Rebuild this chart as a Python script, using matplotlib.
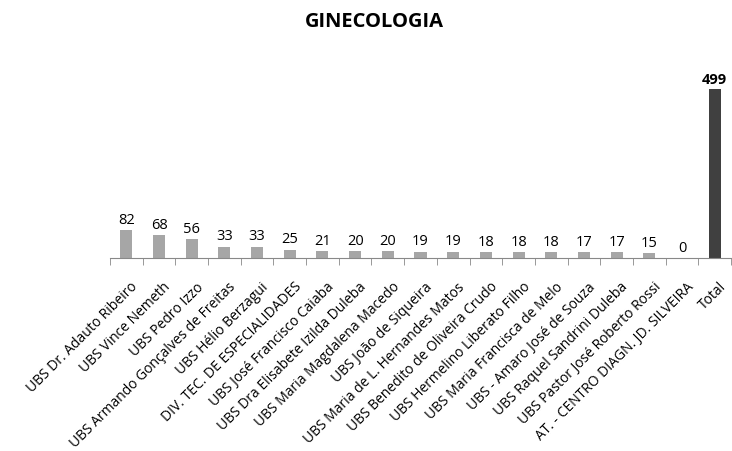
import matplotlib.pyplot as plt
import matplotlib.transforms as mtransforms
import numpy as np

categorias = ["UBS Dr. Adauto Ribeiro", "UBS Vince Nemeth", "UBS Pedro Izzo",
              "UBS Armando Gonçalves de Freitas", "UBS Hélio Berzagui",
              "DIV. TEC. DE ESPECIALIDADES", "UBS José Francisco Caiaba",
              "UBS Dra Elisabete Izilda Duleba", "UBS Maria Magdalena Macedo",
              "UBS João de Siqueira", "UBS Maria de L. Hernandes Matos",
              "UBS Benedito de Oliveira Crudo", "UBS Hermelino Liberato Filho",
              "UBS Maria Francisca de Melo", "UBS - Amaro José de Souza",
              "UBS Raquel Sandrini Duleba", "UBS Pastor José Roberto Rossi",
              "AT. - CENTRO DIAGN. JD. SILVEIRA", "Total"]
valores = [82, 68, 56, 33, 33, 25, 21, 20, 20, 19, 19, 18, 18, 18, 17, 17, 15, 0, 499]

plt.rcParams['font.family'] = ['Open Sans', 'DejaVu Sans']

fig = plt.figure(figsize=(7.32, 4.52), dpi=100)
ax = fig.add_axes([110/732, 1 - 259/452, 621/732, 200/452])

x = np.arange(len(categorias))
cores = ['#A6A6A6'] * (len(categorias) - 1) + ['#404040']
ax.bar(x, valores, width=0.37, color=cores)

for i, v in enumerate(valores):
    peso = 'bold' if categorias[i] == "Total" else 'normal'
    ax.text(i, v + 10, str(v), ha='center', va='bottom', fontsize=10.5, fontweight=peso)

ax.set_xlim(-0.5, len(categorias) - 0.5)
ax.set_ylim(0, 499 * 200 / 169)
ax.set_yticks([])
for s in ['top', 'right', 'left']:
    ax.spines[s].set_visible(False)
ax.spines['bottom'].set_color('#888888')

ax.set_xticks(x)
ax.set_xticklabels(categorias, rotation=45, ha='right', rotation_mode='anchor', fontsize=10)
ax.tick_params(axis='x', which='major', length=0, pad=15)
ax.set_xticks(np.arange(len(categorias) + 1) - 0.5, minor=True)
ax.tick_params(axis='x', which='minor', length=5, color='#888888', direction='out')

# empurra os rótulos um pouco para a direita
desloca = mtransforms.ScaledTranslation(4/100, 0, fig.dpi_scale_trans)
for lbl in ax.get_xticklabels():
    lbl.set_transform(lbl.get_transform() + desloca)

fig.text(374/732, 1 - 22/452, "GINECOLOGIA", ha='center', va='center', fontsize=14.5, fontweight='bold')

fig.savefig("out.png", dpi=100)
